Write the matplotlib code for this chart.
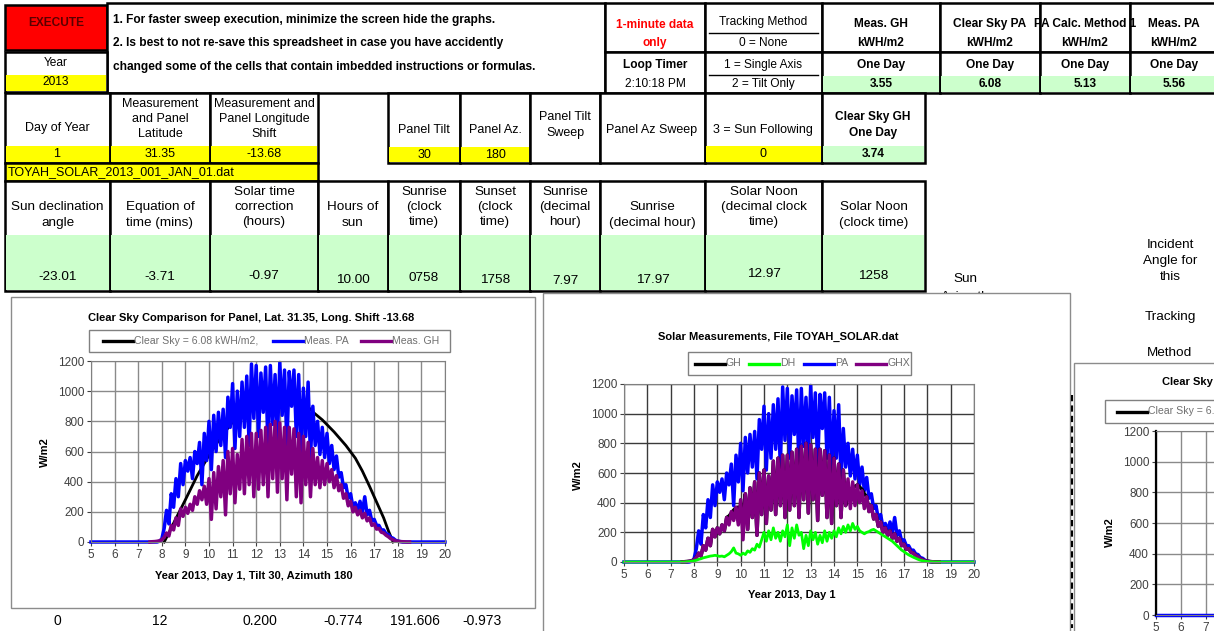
import numpy as np
import matplotlib.pyplot as plt
from matplotlib.patches import Rectangle
from matplotlib.lines import Line2D

plt.rcParams['font.family'] = ['Liberation Sans', 'DejaVu Sans']

W, H = 1214, 631

# spreadsheet cells
year = "2013"
day_of_year = "1"
latitude = "31.35"
long_shift = "-13.68"
panel_tilt = "30"
panel_az = "180"
tracking_choice = "0"
loop_timer = "2:10:18 PM"
file_name = "TOYAH_SOLAR_2013_001_JAN_01.dat"
kwh_headers = ["Meas. GH", "Clear Sky PA", "PA Calc. Method 1", "Meas. PA"]
kwh_values = ["3.55", "6.08", "5.13", "5.56"]
clear_sky_gh = "3.74"
sun_headers = ["Sun declination\nangle", "Equation of\ntime (mins)", "Solar time\ncorrection\n(hours)",
               "Hours of\nsun", "Sunrise\n(clock\ntime)", "Sunset\n(clock\ntime)", "Sunrise\n(decimal\nhour)",
               "Sunrise\n(decimal hour)", "Solar Noon\n(decimal clock\ntime)", "Solar Noon\n(clock time)"]
sun_values = ["-23.01", "-3.71", "-0.97", "10.00", "0758", "1758", "7.97", "17.97", "12.97", "1258"]
bottom_values = ["0", "12", "0.200", "-0.774", "191.606", "-0.973"]

# one-day measurements, W/m2, 7.5 h .. 18.5 h every 0.1 h
hours = np.round(np.arange(7.5, 18.55, 0.1), 1)
pa = [0, 0, 0, 0, 5, 20, 90, 210, 120, 320,
      230, 420, 300, 520, 380, 540, 470, 560, 420, 600,
      520, 660, 380, 720, 540, 800, 480, 840, 600, 860,
      640, 880, 560, 960, 760, 1050, 620, 1000, 700, 1060,
      760, 1100, 640, 1180, 820, 1170, 700, 1120, 860, 1160,
      620, 1170, 780, 1110, 680, 1190, 840, 1140, 640, 1130,
      900, 1140, 700, 1110, 600, 1020, 700, 1060, 560, 900,
      640, 800, 580, 760, 560, 720, 520, 640, 480, 570,
      430, 460, 360, 380, 290, 320, 230, 260, 210, 270,
      200, 300, 180, 210, 140, 150, 110, 110, 80, 80,
      55, 50, 30, 25, 12, 6, 3, 0, 0, 0, 0]
ghx = [0, 2, 3, 5, 8, 15, 30, 60, 40, 110,
       80, 160, 110, 220, 170, 230, 190, 250, 210, 300,
       250, 340, 280, 370, 250, 420, 150, 460, 220, 500,
       300, 540, 180, 600, 320, 620, 260, 580, 350, 680,
       320, 700, 380, 720, 300, 720, 350, 740, 380, 760,
       300, 780, 420, 800, 330, 790, 420, 760, 280, 760,
       450, 750, 300, 720, 260, 700, 380, 660, 300, 620,
       380, 560, 360, 540, 380, 520, 400, 480, 360, 440,
       340, 380, 290, 320, 240, 270, 200, 230, 180, 210,
       160, 190, 140, 160, 110, 120, 85, 90, 65, 60,
       45, 35, 22, 15, 8, 5, 3, 2, 1, 0, 0]
gh = [0, 2, 3, 5, 8, 15, 30, 60, 40, 110,
      80, 160, 110, 220, 170, 230, 190, 250, 210, 300,
      310, 330, 350, 365, 370, 360, 350, 460, 220, 500,
      300, 540, 180, 600, 320, 620, 260, 580, 350, 680,
      320, 700, 380, 720, 300, 720, 350, 740, 380, 760,
      300, 780, 420, 800, 330, 790, 420, 760, 280, 760,
      450, 750, 300, 720, 260, 700, 380, 660, 300, 620,
      380, 480, 490, 500, 510, 520, 505, 490, 460, 440,
      340, 380, 290, 320, 240, 270, 200, 230, 180, 210,
      160, 190, 140, 160, 110, 120, 85, 90, 65, 60,
      45, 35, 22, 15, 8, 5, 3, 2, 1, 0, 0]
dh = [0, 0, 2, 3, 5, 8, 12, 18, 22, 28,
      32, 36, 40, 42, 45, 42, 38, 40, 35, 45,
      55, 70, 95, 60, 55, 45, 60, 50, 75, 65,
      90, 80, 120, 100, 150, 200, 140, 210, 150, 230,
      160, 200, 140, 210, 170, 250, 110, 230, 160, 250,
      180, 200, 90, 180, 110, 210, 150, 200, 120, 180,
      130, 210, 140, 200, 160, 210, 170, 230, 190, 240,
      200, 250, 210, 260, 220, 240, 210, 200, 190, 200,
      205, 215, 220, 210, 200, 190, 180, 170, 160, 150,
      140, 125, 110, 95, 80, 70, 58, 48, 40, 32,
      25, 18, 12, 8, 5, 3, 2, 1, 0, 0, 0]
# night zeros at both ends of the axis
night_start, night_end = 5.0, 20.0
clear_hours = [8.1, 8.3, 8.5, 9.0, 9.5, 10.0, 10.5, 11.0, 11.5, 12.0, 12.5, 13.0,
               13.5, 14.0, 14.4, 14.8, 15.3, 15.8, 16.2, 16.5, 16.8, 17.1, 17.4, 17.6, 17.8]
clear_sky = [0, 60, 125, 280, 440, 575, 695, 795, 875, 935, 970, 982,
             970, 930, 862, 810, 730, 640, 556, 470, 370, 265, 160, 75, 0]

hours_full = np.concatenate([[night_start], hours, [night_end]])
pa_full = [0] + pa + [0]
dh_full = [0] + dh + [0]

fig = plt.figure(figsize=(12.14, 6.31), dpi=100)
bg = fig.add_axes([0, 0, 1, 1])
bg.set_xlim(0, W)
bg.set_ylim(H, 0)
bg.axis('off')

YEL = '#ffff00'
GRN = '#ccffcc'


def box(x0, y0, x1, y1, fc='none', ec='black', lw=1.8, z=2):
    bg.add_patch(Rectangle((x0, y0), x1 - x0, y1 - y0, facecolor=fc,
                           edgecolor=ec, linewidth=lw, zorder=z))


def txt(x, y, s, size=8.6, bold=False, color='black', ha='center', z=6, ls=1.45):
    bg.text(x, y, s, fontsize=size, fontweight='bold' if bold else 'normal',
            color=color, ha=ha, va='center', zorder=z, linespacing=ls)


""" top block """
box(5, 5, 107, 50, fc='#ff0000')
txt(56, 23, "EXECUTE", bold=True, color='#5a0000')
box(107, 3, 605, 93, fc='white')
txt(113, 20, "1. For faster sweep execution, minimize the screen hide the graphs.", bold=True, ha='left')
txt(113, 43, "2. Is best to not re-save this spreadsheet in case you have accidently", bold=True, ha='left')
txt(113, 67, "changed some of the cells that contain imbedded instructions or formulas.", bold=True, ha='left')

box(5, 52, 107, 92, fc='white')
box(6, 75, 106, 91, fc=YEL, lw=0)
txt(56, 63, "Year")
txt(56, 82, year)

box(605, 3, 705, 52, fc='white')
txt(655, 25, "1-minute data", bold=True, color='#ff0000')
txt(655, 43, "only", bold=True, color='#ff0000')
box(605, 52, 705, 93, fc='white')
txt(655, 65, "Loop Timer", bold=True)
txt(655, 84, loop_timer)

box(705, 3, 822, 52, fc='white')
box(705, 52, 822, 93, fc='white')
bg.plot([709, 818], [33, 33], color='black', lw=1, zorder=3)
bg.plot([709, 818], [75, 75], color='black', lw=1, zorder=3)
txt(763, 22, "Tracking Method")
txt(763, 43, "0 = None")
txt(763, 65, "1 = Single Axis")
txt(763, 84, "2 = Tilt Only")

kwh_cols = [822, 940, 1040, 1130, 1225]
for i, (hd, val) in enumerate(zip(kwh_headers, kwh_values)):
    x0, x1 = kwh_cols[i], kwh_cols[i + 1]
    xc = (x0 + min(x1, 1214) + (4 if x1 > 1214 else 0)) / 2
    box(x0, 3, x1, 52, fc='white')
    box(x0, 52, x1, 93, fc='white')
    box(x0 + 1, 76, x1 - 1, 92, fc=GRN, lw=0)
    txt(xc, 24, hd, bold=True)
    txt(xc, 43, "kWH/m2", bold=True)
    txt(xc, 65, "One Day", bold=True)
    txt(xc, 84, val, bold=True)

""" second row """
box(5, 93, 110, 163, fc='white')
box(6, 146, 109, 162, fc=YEL, lw=0)
txt(57, 128, "Day of Year", size=9)
txt(57, 154, day_of_year, size=9)
box(110, 93, 210, 163, fc='white')
box(111, 146, 209, 162, fc=YEL, lw=0)
txt(160, 119, "Measurement\nand Panel\nLatitude", size=9, ls=1.35)
txt(160, 154, latitude, size=9)
box(210, 93, 318, 163, fc='white')
box(211, 146, 317, 162, fc=YEL, lw=0)
txt(264, 119, "Measurement and\nPanel Longitude\nShift", size=9, ls=1.35)
txt(264, 154, long_shift, size=9)

box(388, 93, 460, 163, fc='white')
box(389, 147, 459, 162, fc=YEL, lw=0)
txt(424, 130, "Panel Tilt", size=9)
txt(424, 155, panel_tilt, size=9)
box(460, 93, 530, 163, fc='white')
box(461, 147, 529, 162, fc=YEL, lw=0)
txt(495, 130, "Panel Az.", size=9)
txt(495, 155, panel_az, size=9)
box(530, 93, 600, 163, fc='white')
txt(565, 125, "Panel Tilt\nSweep", size=9)
box(600, 93, 705, 163, fc='white')
txt(652, 130, "Panel Az Sweep", size=9)
box(705, 93, 822, 163, fc='white')
box(706, 146, 821, 162, fc=YEL, lw=0)
txt(763, 130, "3 = Sun Following", size=9)
txt(763, 154, tracking_choice, size=9)
box(822, 93, 925, 163, fc='white')
box(823, 146, 924, 162, fc=GRN, lw=0)
txt(873, 125, "Clear Sky GH\nOne Day", bold=True)
txt(873, 154, clear_sky_gh, bold=True)

box(5, 163, 318, 181, fc=YEL)
txt(8, 172, file_name, size=9, ha='left')

""" sun table """
sun_cols = [5, 110, 210, 318, 388, 460, 530, 600, 705, 822, 925]
sun_val_y = [277, 277, 276, 280, 278, 280, 281, 280, 274, 276]
for i, (hd, val) in enumerate(zip(sun_headers, sun_values)):
    x0, x1 = sun_cols[i], sun_cols[i + 1]
    xc = (x0 + x1) / 2
    box(x0, 181, x1, 291, fc='white')
    box(x0 + 1, 235, x1 - 1, 290, fc=GRN, lw=0)
    txt(xc, 207 if hd.count("\n") == 2 else 215, hd, size=9.7, ls=1.38)
    txt(xc, sun_val_y[i], val, size=9.7)

txt(965, 279, "Sun", size=9.7)
txt(965, 297, "Azimuth", size=9.7, z=1)
txt(1170, 261, "Incident\nAngle for\nthis", size=9.7, ls=1.4)
txt(1170, 317, "Tracking", size=9.7)
txt(1170, 353, "Method", size=9.7)

""" chart frames """
box(11, 297, 535, 608, fc='white', ec='#8c8c8c', lw=1, z=3)
box(543, 293, 1070, 645, fc='white', ec='#8c8c8c', lw=1, z=3)
box(1074, 363, 1225, 645, fc='white', ec='#8c8c8c', lw=1, z=3)
bg.plot([1072, 1072], [395, 628], color='black', lw=1.5, ls=(0, (3, 2)), zorder=4)

for x, s in zip([57, 160, 260, 343, 415, 482], bottom_values):
    txt(x, 621, s, size=10)


def chart_axes(l, t, r, b, grid_color):
    ax = fig.add_axes([l / W, 1 - b / H, (r - l) / W, (b - t) / H])
    ax.set_xlim(5, 20)
    ax.set_ylim(0, 1200)
    ax.set_xticks(range(5, 21))
    ax.set_yticks(range(0, 1201, 200))
    ax.grid(True, color=grid_color, lw=1)
    ax.set_axisbelow(True)
    ax.tick_params(labelsize=8.5, colors='#404040', length=3, width=0.8, pad=2)
    for sp in ax.spines.values():
        sp.set_color('#808080')
    return ax


def legend_row(x0, x1, y0, y1, items):
    box(x0, y0, x1, y1, fc='white', ec='#808080', lw=1, z=5)
    yc = (y0 + y1) / 2
    for lx, color, label in items:
        bg.add_line(Line2D([lx, lx + 30], [yc, yc], color=color, lw=2.4, zorder=7))
        txt(lx + 31, yc, label, size=7.6, color='#707070', ha='left', z=7)


def ylabel(x, y):
    bg.text(x, y, "W/m2", fontsize=8, fontweight='bold', rotation=90,
            ha='center', va='center', zorder=6)


""" chart 1 """
ax1 = chart_axes(91, 361, 445, 542, '#8a8a8a')
ax1.plot(clear_hours, clear_sky, color='black', lw=2, clip_on=False)
ax1.plot(hours_full, pa_full, color='#0000ff', lw=2.5, clip_on=False)
ax1.plot(hours, ghx, color='#800080', lw=2.5, clip_on=False)
txt(251, 318, "Clear Sky Comparison for Panel, Lat. 31.35, Long. Shift -13.68", size=8, bold=True, z=6)
legend_row(89, 450, 330, 352, [(103, 'black', "Clear Sky = 6.08 kWH/m2,"),
                               (273, '#0000ff', "Meas. PA"),
                               (361, '#800080', "Meas. GH")])
txt(254, 576, "Year 2013, Day 1, Tilt 30, Azimuth 180", size=8, bold=True)
ylabel(45, 452)

""" chart 2 """
ax2 = chart_axes(624, 384, 974, 562, '#3a3a3a')
ax2.plot(hours_full, pa_full, color='#0000ff', lw=2.5, clip_on=False)
ax2.plot(hours, gh, color='black', lw=2.5, clip_on=False)
ax2.plot(hours, ghx, color='#800080', lw=2.5, clip_on=False)
ax2.plot(hours_full, dh_full, color='#00ff00', lw=2, clip_on=False)
txt(778, 337, "Solar Measurements, File TOYAH_SOLAR.dat", size=8, bold=True, z=6)
legend_row(688, 911, 352, 375, [(695, 'black', "GH"), (749, '#00ff00', "DH"),
                                (804, '#0000ff', "PA"), (856, '#800080', "GHX")])
txt(792, 595, "Year 2013, Day 1", size=8, bold=True)
ylabel(578, 475)

""" chart 3, cut off at the right edge """
ax3 = chart_axes(1156, 431, 1156 + 25 * 15, 615, '#8a8a8a')
ax3.spines['left'].set_color('black')
ax3.spines['left'].set_linewidth(1.6)
ax3.plot(clear_hours, clear_sky, color='black', lw=2, clip_on=False)
ax3.plot(hours_full, pa_full, color='#0000ff', lw=2.5, clip_on=False)
txt(1162, 382, "Clear Sky Comparison for Panel, Lat. 31.35, Long. Shift -13.68", size=8, bold=True, ha='left', z=6)
legend_row(1105, 1300, 400, 423, [(1117, 'black', "Clear Sky = 6.08 kWH/m2,")])
ylabel(1110, 532)

plt.savefig("out.png", dpi=100)
